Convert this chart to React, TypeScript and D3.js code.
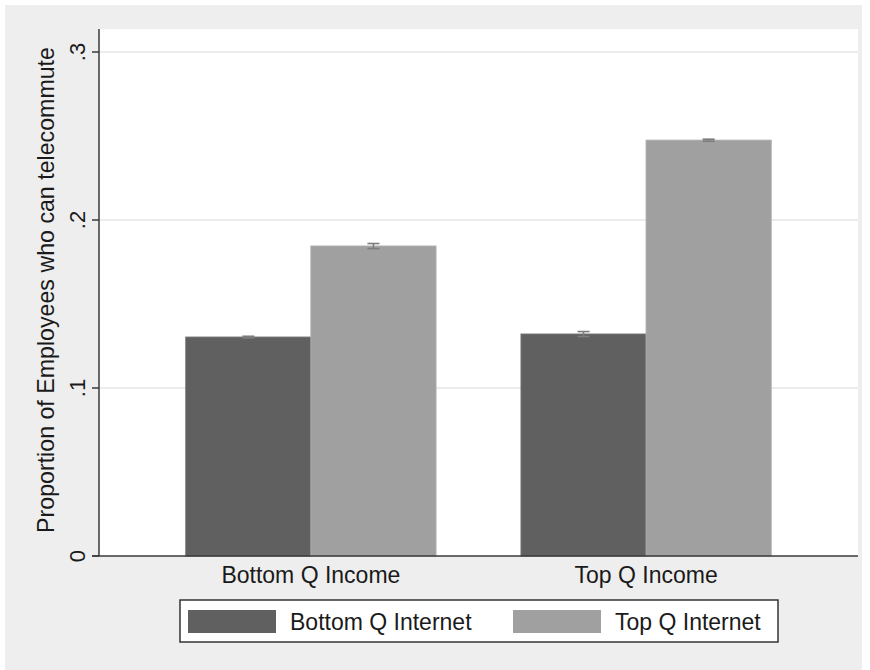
import React from "react";
import * as d3 from "d3";

// Groups on the x axis and the two series drawn inside each group
const groups = ["Bottom Q Income", "Top Q Income"];
const seriesNames = ["Bottom Q Internet", "Top Q Internet"];
const seriesColors = ["#606060", "#a0a0a0"];

// Mean proportion per group, one array per series
const bottomInternet = [0.1303, 0.1321];
const topInternet = [0.1845, 0.2475];

// Half-width of the confidence interval per group
const bottomInternetCI = [0.0005, 0.0015];
const topInternetCI = [0.0015, 0.0006];

const yTicks = [0, 0.1, 0.2, 0.3];
const yTickLabels = ["0", ".1", ".2", ".3"];
const yTitle = "Proportion of Employees who can telecommute";

const W = 870;
const H = 670;
const plot = { left: 99, right: 858, top: 29, bottom: 556 };
const FONT = "'Liberation Sans', Arial, sans-serif";

export default function App() {
  const values = [bottomInternet, topInternet];
  const cis = [bottomInternetCI, topInternetCI];

  const y = d3.scaleLinear().domain([0, 0.3]).range([plot.bottom, 52]);
  const x0 = d3
    .scaleBand<string>()
    .domain(groups)
    .range([plot.left, plot.right])
    .paddingInner(0.2537)
    .paddingOuter(0.259);
  const x1 = d3
    .scaleBand<string>()
    .domain(seriesNames)
    .range([0, x0.bandwidth()])
    .padding(0);

  const legend = { x: 180, y: 600, w: 598, h: 42 };

  return (
    <svg
      width={W}
      height={H}
      style={{ position: "absolute", left: 0, top: 0, background: "#ffffff" }}
      fontFamily={FONT}
    >
      <rect x={5} y={5} width={857} height={665} fill="#eeeeee" />
      <rect
        x={plot.left}
        y={plot.top}
        width={plot.right - plot.left}
        height={plot.bottom - plot.top}
        fill="#ffffff"
      />

      {/* horizontal grid */}
      {yTicks
        .filter((t) => t > 0)
        .map((t) => (
          <line
            key={"g" + t}
            x1={plot.left}
            x2={plot.right}
            y1={y(t)}
            y2={y(t)}
            stroke="#e6e6e6"
            strokeWidth={1.5}
          />
        ))}

      {/* bars */}
      {groups.map((g, gi) =>
        seriesNames.map((s, si) => {
          const bx = (x0(g) ?? 0) + (x1(s) ?? 0);
          const v = values[si][gi];
          return (
            <rect
              key={g + s}
              x={bx}
              y={y(v)}
              width={x1.bandwidth()}
              height={y(0) - y(v)}
              fill={seriesColors[si]}
              stroke={si === 0 ? "#6a6a6a" : "#aaaaaa"}
              strokeWidth={1}
            />
          );
        })
      )}

      {/* confidence intervals */}
      {groups.map((g, gi) =>
        seriesNames.map((s, si) => {
          const cx = (x0(g) ?? 0) + (x1(s) ?? 0) + x1.bandwidth() / 2;
          const v = values[si][gi];
          const c = cis[si][gi];
          const yHi = y(v + c);
          const yLo = y(v - c);
          return (
            <g key={"ci" + g + s} stroke="#7c7c7c" strokeWidth={1.6}>
              <line x1={cx} x2={cx} y1={yHi} y2={yLo} />
              <line x1={cx - 6} x2={cx + 6} y1={yHi} y2={yHi} />
              <line x1={cx - 6} x2={cx + 6} y1={yLo} y2={yLo} />
            </g>
          );
        })
      )}

      {/* y axis */}
      <line
        x1={plot.left}
        x2={plot.left}
        y1={plot.top}
        y2={plot.bottom}
        stroke="#3a3a3a"
        strokeWidth={1.5}
      />
      {yTicks.map((t, i) => (
        <g key={"t" + t}>
          <line
            x1={plot.left - 7}
            x2={plot.left}
            y1={y(t)}
            y2={y(t)}
            stroke="#3a3a3a"
            strokeWidth={1.5}
          />
          <text
            transform={`translate(${plot.left - 14},${y(t)}) rotate(-90)`}
            textAnchor="middle"
            fontSize={22}
            fill="#1a1a1a"
          >
            {yTickLabels[i]}
          </text>
        </g>
      ))}
      <text
        transform={`translate(54,290) rotate(-90)`}
        textAnchor="middle"
        fontSize={23.2}
        fill="#1a1a1a"
      >
        {yTitle}
      </text>

      {/* x axis */}
      <line
        x1={plot.left - 7}
        x2={plot.right}
        y1={plot.bottom}
        y2={plot.bottom}
        stroke="#3a3a3a"
        strokeWidth={1.5}
      />
      {groups.map((g) => (
        <text
          key={"xl" + g}
          x={(x0(g) ?? 0) + x0.bandwidth() / 2}
          y={583}
          textAnchor="middle"
          fontSize={23}
          fill="#1a1a1a"
        >
          {g}
        </text>
      ))}

      {/* legend */}
      <rect
        x={legend.x}
        y={legend.y}
        width={legend.w}
        height={legend.h}
        fill="#ffffff"
        stroke="#333333"
        strokeWidth={1.5}
      />
      {seriesNames.map((s, i) => {
        const kx = i === 0 ? 188 : 513;
        return (
          <g key={"lg" + s}>
            <rect x={kx} y={610} width={88} height={23} fill={seriesColors[i]} />
            <text x={kx + 102} y={630} fontSize={23} fill="#1a1a1a">
              {s}
            </text>
          </g>
        );
      })}
    </svg>
  );
}
